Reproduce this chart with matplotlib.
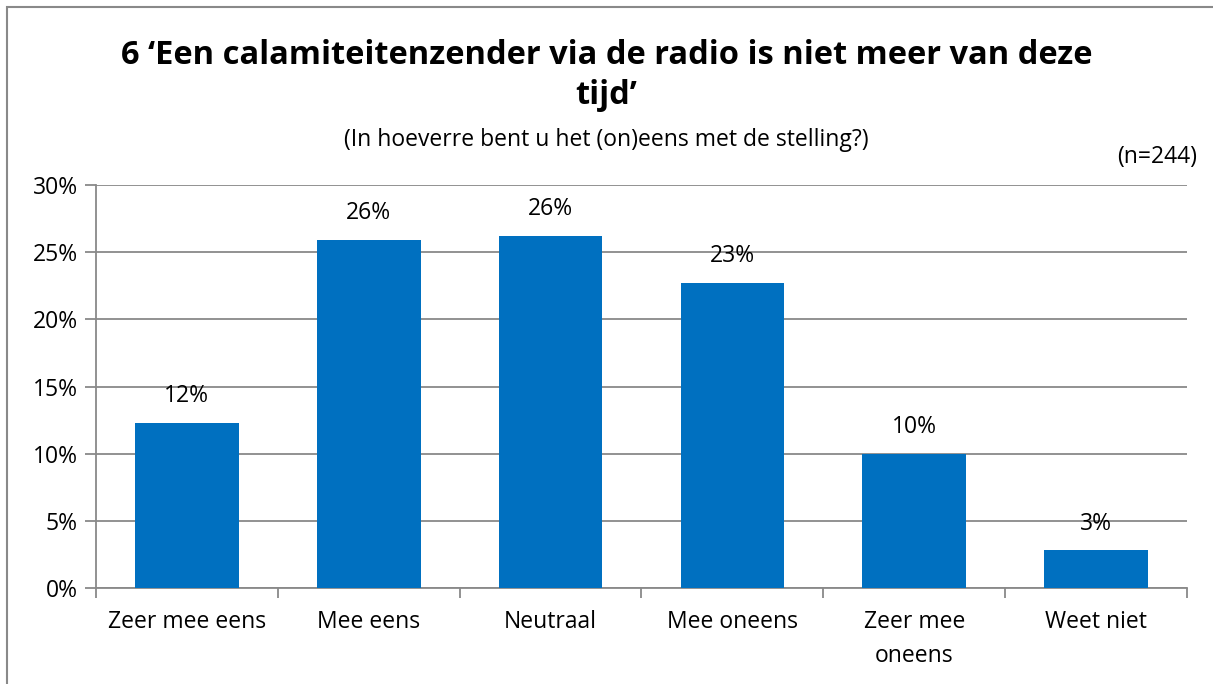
import numpy as np
import matplotlib.pyplot as plt
from matplotlib.patches import Rectangle

plt.rcParams['font.family'] = ['Open Sans', 'DejaVu Sans']

categories = ["Zeer mee eens", "Mee eens", "Neutraal", "Mee oneens", "Zeer mee\noneens", "Weet niet"]
values = [12.3, 25.9, 26.2, 22.7, 10.0, 2.8]
labels = ["12%", "26%", "26%", "23%", "10%", "3%"]
yticks = [0, 5, 10, 15, 20, 25, 30]

BLUE = "#0070C0"
GREY = "#898989"
FS = 16.5

fig = plt.figure(figsize=(12.13, 6.84), dpi=100)
ax = fig.add_axes([96 / 1213, 1 - 588 / 684, 1091 / 1213, 403 / 684])

x = np.arange(len(categories))
ax.bar(x, values, width=0.57, color=BLUE, zorder=3)
for xi, v, lab in zip(x, values, labels):
    ax.text(xi, v + 1.1, lab, ha="center", va="bottom", fontsize=FS, color="black")

ax.set_xlim(-0.5, len(categories) - 0.5)
ax.set_ylim(0, 30)
ax.set_yticks(yticks)
ax.set_yticklabels([f"{t}%" for t in yticks], fontsize=FS)
ax.grid(axis="y", color=GREY, linewidth=1.3, zorder=0)

# category labels centered, ticks at boundaries
ax.set_xticks(x)
ax.set_xticklabels(categories, fontsize=FS, linespacing=1.55, va="top")
ax.tick_params(axis="x", which="major", length=0, pad=16)
ax.set_xticks(np.arange(-0.5, len(categories), 1), minor=True)
ax.tick_params(axis="x", which="minor", length=7, width=1.3, color=GREY, direction="out")
ax.tick_params(axis="y", length=8, width=1.3, color=GREY, pad=5)

for side in ["top", "right"]:
    ax.spines[side].set_visible(False)
for side in ["left", "bottom"]:
    ax.spines[side].set_color(GREY)
    ax.spines[side].set_linewidth(1.3)

fig.text(0.5, 1 - 55 / 684, "6 \u2018Een calamiteitenzender via de radio is niet meer van deze",
         ha="center", va="center", fontsize=23.5, fontweight="bold")
fig.text(0.5, 1 - 96 / 684, "tijd\u2019", ha="center", va="center", fontsize=23.5, fontweight="bold")
fig.text(0.5, 1 - 140 / 684, "(In hoeverre bent u het (on)eens met de stelling?)",
         ha="center", va="center", fontsize=FS)
fig.text(1197 / 1213, 1 - 157 / 684, "(n=244)", ha="right", va="center", fontsize=FS)

fig.patches.append(Rectangle((7 / 1213, -0.01), 1.0, 1 - 7 / 684 + 0.01, transform=fig.transFigure,
                             fill=False, edgecolor=GREY, linewidth=1.5))

fig.savefig("out.png", dpi=100)
